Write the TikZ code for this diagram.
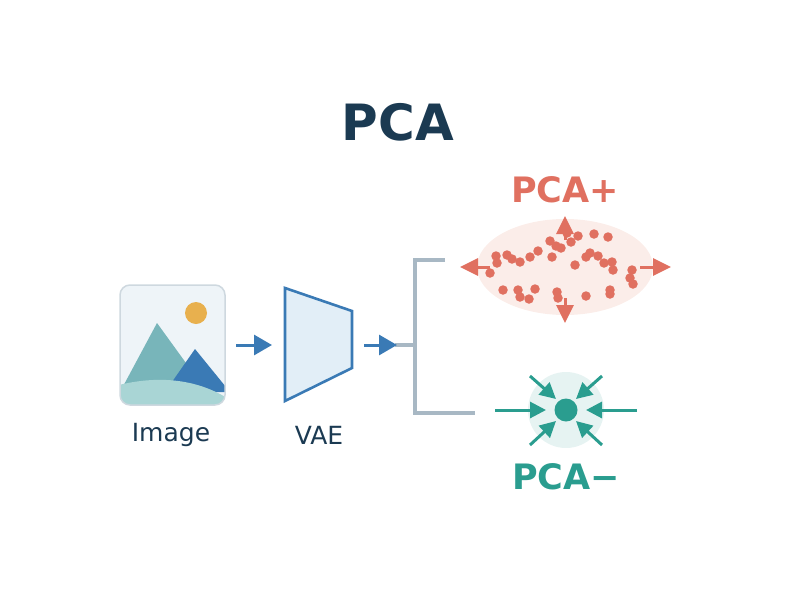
\documentclass[tikz,border=0pt]{standalone}
\usepackage{fontspec}
\setmainfont{DejaVu Sans}
\usepackage{tikz}
\usetikzlibrary{arrows.meta,positioning}
\definecolor{ink}{HTML}{1B3A52}
\definecolor{vaeblue}{HTML}{3A7AB5}
\definecolor{vaefill}{HTML}{E2EEF7}
\definecolor{grayline}{HTML}{A8B8C4}
\definecolor{plus}{HTML}{E07060}
\definecolor{plusfill}{HTML}{FBEDE9}
\definecolor{minus}{HTML}{2A9D8F}
\definecolor{minusfill}{HTML}{E6F3F2}
\definecolor{sun}{HTML}{E8B04E}
\definecolor{peak}{HTML}{78B5BA}
\definecolor{hill}{HTML}{A9D5D5}
\definecolor{photo}{HTML}{EEF4F8}
\tikzset{
    flow/.style={draw=vaeblue, line width=3pt, -{Triangle[length=18pt,width=20pt]}},
    spread/.style={draw=plus, line width=3pt, -{Triangle[length=18pt,width=17pt]}},
    squeeze/.style={draw=minus, line width=3pt, -{Triangle[length=16pt,width=16pt]}},
    branch/.style={draw=grayline, line width=3.2pt},
    dot/.style={circle, fill=plus, inner sep=0pt, minimum size=9.5pt},
    caption/.style={text=ink, font=\fontsize{25}{30}\selectfont},
}
\begin{document}
\begin{tikzpicture}[x=1pt, y=-1pt]
	\useasboundingbox (0,0) rectangle (800,600);
	\node[text=ink, font=\fontsize{50}{56}\bfseries] (title) at (398,122) {PCA};
	% image icon
	\begin{scope}
	\clip[rounded corners=10pt] (120,285) rectangle (225,405);
	\fill[photo] (120,285) rectangle (225,405);
	\fill[sun] (196,313) circle (11);
	\fill[peak] (120,392) -- (157,323) -- (207,392) -- cycle;
	\fill[vaeblue] (165,392) -- (195,349) -- (230,392) -- cycle;
	\fill[hill] (115,405) -- (115,386) .. controls (160,374) and (200,380) .. (230,400) -- (230,405) -- cycle;
	\end{scope}
	\draw[draw=vaefill!80!gray, line width=1.5pt, rounded corners=10pt] (120,285) rectangle (225,405);
	\node[caption] (img) at (171,435) {Image};
	% encoder
	\draw[vaeblue, fill=vaefill, line width=2.6pt] (285,288) -- (352,311) -- (352,368) -- (285,401) -- cycle;
	\node[caption] (vae) at (319,435) {VAE};
	\coordinate (a1) at (236,345);
	\coordinate (a2) at (272,345);
	\coordinate (b1) at (364,345);
	\coordinate (b2) at (397,345);
	\draw[flow] (a1) -- (a2);
	\draw[branch] (395,345) -- (415,345);
	\draw[branch] (445,260) -- (415,260) -- (415,413) -- (475,413);
	\draw[flow] (b1) -- (b2);
	% spread cloud
	\fill[plusfill] (565,267) ellipse (88 and 48);
	\foreach \x/\y in {496/256,497/263,507/255,512/259,520/262,530/257,538/251,550/241,556/246,
		561/248,567/233,594/234,608/237,552/257,575/265,586/257,590/253,598/256,604/263,612/262,
		613/270,632/270,630/278,633/284,490/273,503/290,518/290,520/297,529/299,535/289,557/292,
		558/298,586/296,610/290,610/294,571/242,578/236}
		\node[dot] at (\x,\y) {};
	\coordinate (pc) at (565,267);
	\draw[spread] (490,267) -- (460,267);
	\draw[spread] (640,267) -- (671,267);
	\draw[spread] (565,240) -- (565,216);
	\draw[spread] (565,298) -- (565,323);
	\node[text=plus, font=\fontsize{35}{40}\bfseries] (plus) at (565,190) {PCA+};
	% squeeze point
	\fill[minusfill] (566,410) circle (38);
	\node[circle, fill=minus, inner sep=0pt, minimum size=23pt] (core) at (566,410) {};
	\draw[squeeze] (495,410) -- (546,410);
	\draw[squeeze] (637,410) -- (586,410);
	\draw[squeeze] (530,376) -- (556,399);
	\draw[squeeze] (602,376) -- (576,399);
	\draw[squeeze] (530,445) -- (556,421);
	\draw[squeeze] (602,445) -- (576,421);
	\node[text=minus, font=\fontsize{35}{40}\bfseries] (minus) at (566,477) {PCA−};
\end{tikzpicture}
\end{document}
